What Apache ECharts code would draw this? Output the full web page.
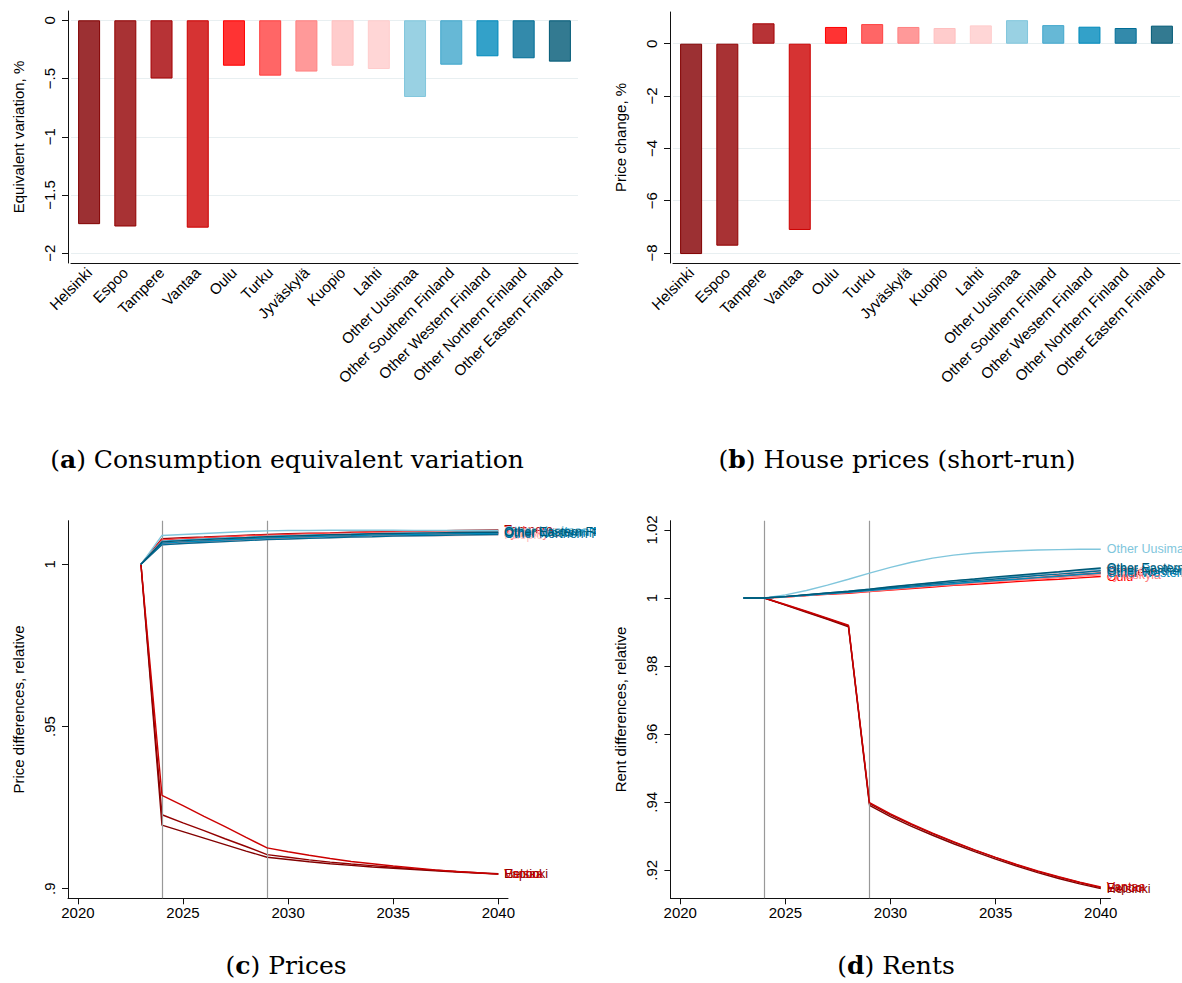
<!DOCTYPE html>
<html><head><meta charset="utf-8">
<script src="https://cdn.jsdelivr.net/npm/echarts@6/dist/echarts.min.js"></script>
<style>
html,body{margin:0;padding:0;background:#fff;width:1182px;height:983px;overflow:hidden;}
.p{position:absolute;overflow:hidden;}
</style></head><body>
<div id="pa" class="p" style="left:0;top:0;width:590px;height:490px"></div>
<div id="pb" class="p" style="left:590px;top:0;width:592px;height:490px"></div>
<div id="pc" class="p" style="left:0;top:490px;width:596px;height:493px"></div>
<div id="pd" class="p" style="left:596px;top:490px;width:586px;height:493px"></div>
<script>
// ---------- DATA ----------
const regions = ['Helsinki','Espoo','Tampere','Vantaa','Oulu','Turku','Jyväskylä','Kuopio','Lahti',
  'Other Uusimaa','Other Southern Finland','Other Western Finland','Other Northern Finland','Other Eastern Finland'];
const equivalentVariation = [-1.75,-1.77,-0.50,-1.78,-0.39,-0.475,-0.44,-0.39,-0.418,-0.658,-0.381,-0.309,-0.326,-0.355];
const priceChangeShortRun = [-8.04,-7.72,0.78,-7.12,0.64,0.75,0.64,0.60,0.70,0.90,0.71,0.65,0.60,0.69];
const evTicks = [0,-0.5,-1,-1.5,-2];
const pcTicks = [0,-2,-4,-6,-8];
const years = [2023,2024,2025,2026,2027,2028,2029,2030,2031,2032,2033,2034,2035,2036,2037,2038,2039,2040];
const yearTicks = [2020,2025,2030,2035,2040];
const policyYears = [2024,2029];
const priceTicks = [0.9,0.95,1];
const rentTicks = [0.92,0.94,0.96,0.98,1,1.02];

// Prices (relative), 2023..2040
const priceHelsinki = [1,.9196,.9176,.9156,.9136,.9116,.9097,.9090,.9083,.9077,.9072,.9067,.9063,.9059,.9055,.9051,.9048,.9045];
const priceEspoo    = [1,.9228,.9203,.9179,.9154,.9130,.9105,.9097,.9089,.9082,.9076,.9071,.9066,.9061,.9057,.9053,.9049,.9046];
const priceTampere  = [1,1.0079,1.0082,1.0084,1.0087,1.0090,1.0092,1.0094,1.0096,1.0097,1.0099,1.0100,1.0101,1.0102,1.0103,1.0104,1.0105,1.0106];
const priceVantaa   = [1,.9288,.9256,.9223,.9191,.9158,.9126,.9114,.9103,.9093,.9084,.9077,.9070,.9064,.9058,.9053,.9049,.9045];
const priceOulu     = [1,1.0064,1.0068,1.0071,1.0074,1.0077,1.0080,1.0082,1.0084,1.0086,1.0087,1.0089,1.0090,1.0091,1.0092,1.0093,1.0094,1.0095];
const priceTurku    = [1,1.0075,1.0079,1.0082,1.0085,1.0088,1.0090,1.0092,1.0094,1.0096,1.0097,1.0099,1.0100,1.0101,1.0102,1.0102,1.0103,1.0103];
const priceJyvaskyla= [1,1.0064,1.0068,1.0071,1.0074,1.0077,1.0080,1.0082,1.0084,1.0086,1.0088,1.0089,1.0090,1.0091,1.0092,1.0093,1.0094,1.0095];
const priceKuopio   = [1,1.0060,1.0064,1.0067,1.0070,1.0073,1.0076,1.0078,1.0080,1.0082,1.0083,1.0085,1.0086,1.0087,1.0088,1.0089,1.0090,1.0091];
const priceLahti    = [1,1.0070,1.0074,1.0077,1.0080,1.0083,1.0086,1.0088,1.0090,1.0092,1.0093,1.0095,1.0096,1.0097,1.0098,1.0099,1.0100,1.0100];
const priceUusimaa  = [1,1.0089,1.0092,1.0095,1.0098,1.0101,1.0103,1.0104,1.0104,1.0105,1.0105,1.0105,1.0105,1.0104,1.0104,1.0104,1.0104,1.0104];
const priceSouthern = [1,1.0071,1.0075,1.0078,1.0081,1.0083,1.0086,1.0088,1.0090,1.0091,1.0093,1.0094,1.0095,1.0096,1.0097,1.0098,1.0098,1.0099];
const priceWestern  = [1,1.0065,1.0069,1.0072,1.0075,1.0078,1.0081,1.0083,1.0085,1.0087,1.0088,1.0090,1.0091,1.0092,1.0093,1.0094,1.0095,1.0096];
const priceNorthern = [1,1.0060,1.0064,1.0067,1.0070,1.0073,1.0076,1.0078,1.0080,1.0082,1.0084,1.0085,1.0087,1.0088,1.0089,1.0090,1.0091,1.0092];
const priceEastern  = [1,1.0069,1.0073,1.0076,1.0079,1.0082,1.0085,1.0087,1.0089,1.0091,1.0092,1.0094,1.0095,1.0096,1.0097,1.0098,1.0099,1.0099];

// Rents (relative), 2023..2040
const rentHelsinki = [1,1,.9979,.9958,.9937,.9915,.9391,.9358,.9329,.9303,.9278,.9255,.9233,.9212,.9193,.9176,.9160,.9146];
const rentEspoo    = [1,1,.9980,.9960,.9939,.9918,.9396,.9363,.9334,.9308,.9283,.9259,.9237,.9216,.9197,.9180,.9164,.9149];
const rentTampere  = [1,1,1.0004,1.0008,1.0013,1.0017,1.0023,1.0028,1.0033,1.0038,1.0044,1.0048,1.0053,1.0057,1.0062,1.0066,1.0071,1.0075];
const rentVantaa   = [1,1,.9981,.9961,.9941,.9920,.9399,.9366,.9336,.9309,.9284,.9260,.9238,.9217,.9198,.9181,.9165,.9151];
const rentOulu     = [1,1,1.0003,1.0007,1.0011,1.0014,1.0019,1.0023,1.0028,1.0032,1.0037,1.0040,1.0044,1.0048,1.0052,1.0055,1.0059,1.0063];
const rentTurku    = [1,1,1.0004,1.0008,1.0012,1.0017,1.0022,1.0027,1.0032,1.0037,1.0042,1.0046,1.0050,1.0055,1.0059,1.0063,1.0068,1.0072];
const rentJyvaskyla= [1,1,1.0003,1.0007,1.0012,1.0016,1.0020,1.0025,1.0030,1.0035,1.0039,1.0044,1.0048,1.0052,1.0056,1.0060,1.0064,1.0068];
const rentKuopio   = [1,1,1.0004,1.0009,1.0014,1.0019,1.0025,1.0030,1.0036,1.0042,1.0048,1.0053,1.0057,1.0062,1.0067,1.0072,1.0077,1.0082];
const rentLahti    = [1,1,1.0004,1.0009,1.0013,1.0018,1.0023,1.0029,1.0034,1.0040,1.0045,1.0050,1.0055,1.0059,1.0064,1.0069,1.0073,1.0078];
const rentUusimaa  = [1,1,1.0009,1.0022,1.0038,1.0055,1.0073,1.0090,1.0105,1.0117,1.0126,1.0132,1.0136,1.0139,1.0141,1.0142,1.0143,1.0143];
const rentSouthern = [1,1,1.0004,1.0009,1.0015,1.0020,1.0026,1.0032,1.0038,1.0044,1.0050,1.0055,1.0060,1.0065,1.0071,1.0076,1.0081,1.0086];
const rentWestern  = [1,1,1.0004,1.0008,1.0012,1.0017,1.0022,1.0027,1.0032,1.0037,1.0042,1.0047,1.0051,1.0055,1.0060,1.0064,1.0069,1.0073];
const rentNorthern = [1,1,1.0004,1.0009,1.0014,1.0018,1.0024,1.0030,1.0035,1.0041,1.0046,1.0051,1.0056,1.0061,1.0066,1.0070,1.0075,1.0080];
const rentEastern  = [1,1,1.0004,1.0010,1.0015,1.0020,1.0026,1.0033,1.0039,1.0045,1.0051,1.0056,1.0062,1.0067,1.0072,1.0077,1.0083,1.0088];

const priceSeries = [priceHelsinki,priceEspoo,priceTampere,priceVantaa,priceOulu,priceTurku,priceJyvaskyla,priceKuopio,priceLahti,priceUusimaa,priceSouthern,priceWestern,priceNorthern,priceEastern];
const rentSeries = [rentHelsinki,rentEspoo,rentTampere,rentVantaa,rentOulu,rentTurku,rentJyvaskyla,rentKuopio,rentLahti,rentUusimaa,rentSouthern,rentWestern,rentNorthern,rentEastern];

// ---------- STYLES ----------
const lineColors = ['#820000','#920000','#a50004','#cc0000','#ff0000','#ff4040','#ff8080','#ffbfbf','#ffcccc',
  '#80c6dc','#40a6cc','#008abc','#006d96','#005976'];
const barFills = ['#9c3033','#a83234','#b73336','#d63333','#ff3333','#ff6666','#ff9999','#ffcccc','#ffd6d6',
  '#99d1e3','#66b8d6','#33a1c9','#338aab','#337a91'];
const FONT = "'Liberation Sans', Arial, Helvetica, sans-serif";
const SERIF = "'DejaVu Serif', 'Liberation Serif', serif";
const AX = '#111';
const GRIDC = '#e8eff1';

function fmt(v){
  let s = String(+Number(v).toFixed(4));
  let neg = s.startsWith('-');
  if (neg) s = s.slice(1);
  s = s.replace(/^0\./, '.');
  return (neg ? '\u2212' : '') + s;
}

function caption(x, y, letter, text){
  return [{
    type:'text', x:x, y:y, silent:true,
    style:{
      text:'({b|' + letter + '}) ' + text,
      fontFamily:SERIF, fontSize:25, fill:'#000',
      align:'center', verticalAlign:'middle',
      rich:{ b:{fontFamily:SERIF, fontSize:25, fontWeight:'bold', fill:'#000'} }
    }
  }];
}

function barOption(values, yname, min, max, ticks, grid, cap){
  return {
    animation:false,
    textStyle:{fontFamily:FONT},
    grid:grid,
    graphic:cap,
    xAxis:{
      type:'category', data:regions, boundaryGap:true,
      axisLine:{onZero:false, lineStyle:{color:AX, width:1}},
      axisTick:{alignWithLabel:true, length:6, lineStyle:{color:AX, width:1}},
      axisLabel:{rotate:45, fontSize:15, color:'#000', margin:7, interval:0, fontFamily:FONT},
      splitLine:{show:false}
    },
    yAxis:{
      type:'value', min:min, max:max, offset:3,
      name:yname, nameLocation:'middle', nameGap:42,
      nameTextStyle:{fontSize:15, color:'#000', fontFamily:FONT},
      axisLine:{show:true, onZero:false, lineStyle:{color:AX, width:1}},
      axisTick:{show:true, length:6, customValues:ticks, lineStyle:{color:AX, width:1}},
      axisLabel:{rotate:90, customValues:ticks, formatter:fmt, fontSize:15, color:'#000', margin:11, fontFamily:FONT},
      splitLine:{show:true, lineStyle:{color:GRIDC, width:1}}
    },
    series:[{
      type:'bar', barWidth:22, silent:true,
      data:values.map((v,i)=>({value:v, itemStyle:{color:barFills[i], borderColor:lineColors[i], borderWidth:1}}))
    }]
  };
}

function lineOption(seriesData, yname, min, max, ticks, grid, cap){
  const series = [{
    type:'line', data:[], silent:true, z:1,
    markLine:{
      silent:true, symbol:'none', label:{show:false},
      lineStyle:{color:'#999', width:1.2, type:'solid'},
      data:policyYears.map(y=>({xAxis:y}))
    }
  }];
  seriesData.forEach((arr,i)=>{
    series.push({
      type:'line', name:regions[i], silent:true, z:2+i,
      data:years.map((y,k)=>[y, arr[k]]),
      showSymbol:false, symbol:'none',
      lineStyle:{width:1.4, color:lineColors[i]},
      itemStyle:{color:lineColors[i]},
      endLabel:{show:true, formatter:'{a}', color:lineColors[i], fontSize:12.5, fontFamily:FONT, distance:6}
    });
  });
  return {
    animation:false,
    textStyle:{fontFamily:FONT},
    grid:grid,
    graphic:cap,
    xAxis:{
      type:'value', min:2019.53, max:2040.46,
      axisLine:{show:true, onZero:false, lineStyle:{color:AX, width:1}},
      axisTick:{show:true, length:6, customValues:yearTicks, lineStyle:{color:AX, width:1}},
      axisLabel:{customValues:yearTicks, formatter:v=>String(Math.round(v)), fontSize:15, color:'#000', margin:7, fontFamily:FONT},
      splitLine:{show:false}
    },
    yAxis:{
      type:'value', min:min, max:max,
      name:yname, nameLocation:'middle', nameGap:42,
      nameTextStyle:{fontSize:15, color:'#000', fontFamily:FONT},
      axisLine:{show:true, onZero:false, lineStyle:{color:AX, width:1}},
      axisTick:{show:true, length:6, customValues:ticks, lineStyle:{color:AX, width:1}},
      axisLabel:{rotate:90, customValues:ticks, formatter:fmt, fontSize:15, color:'#000', margin:11, fontFamily:FONT},
      splitLine:{show:false}
    },
    series:series
  };
}

const ca = echarts.init(document.getElementById('pa'), null, {renderer:'svg'});
ca.setOption(barOption(equivalentVariation, 'Equivalent variation, %', -2.0833, 0.0798, evTicks,
  {left:71, top:11, width:507, height:252}, caption(287, 459, 'a', 'Consumption equivalent variation')));

const cb = echarts.init(document.getElementById('pb'), null, {renderer:'svg'});
cb.setOption(barOption(priceChangeShortRun, 'Price change, %', -8.382, 1.2118, pcTicks,
  {left:83, top:12, width:507, height:251}, caption(307, 459, 'b', 'House prices (short-run)')));

const cc = echarts.init(document.getElementById('pc'), null, {renderer:'svg'});
cc.setOption(lineOption(priceSeries, 'Price differences, relative', 0.89704, 1.01344, priceTicks,
  {left:68, top:30.7, width:440, height:377.6}, caption(286, 475, 'c', 'Prices')));

const cd = echarts.init(document.getElementById('pd'), null, {renderer:'svg'});
cd.setOption(lineOption(rentSeries, 'Rent differences, relative', 0.91177, 1.02271, rentTicks,
  {left:74.4, top:30.7, width:440, height:377.6}, caption(300, 475, 'd', 'Rents')));
</script>
</body></html>
